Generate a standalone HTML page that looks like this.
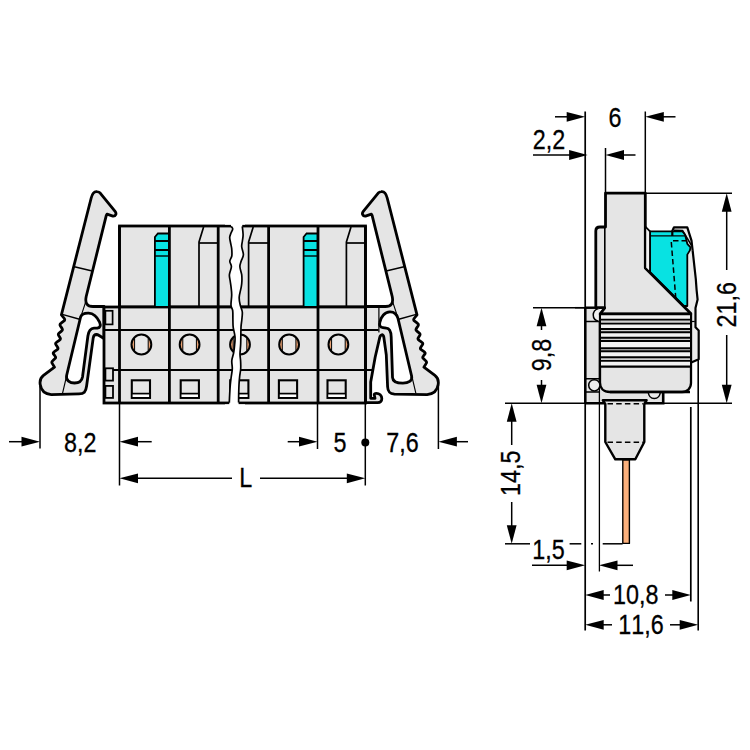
<!DOCTYPE html>
<html><head><meta charset="utf-8"><title>Dimension drawing</title>
<style>
html,body{margin:0;padding:0;background:#fff;}
body{width:750px;height:750px;overflow:hidden;font-family:"Liberation Sans",sans-serif;}
svg{display:block;}
</style></head><body>
<svg width="750" height="750" viewBox="0 0 750 750">
<rect width="750" height="750" fill="#fff"/>
<g stroke-linejoin="round" stroke-linecap="round">
<path d="M91.2,198 C92.2,193.8 94.2,191.1 97.2,191.6 C98.6,191.8 99.4,192.3 100.2,193.1 L115.1,211.3 C116.9,213.6 115.7,216.4 112.9,216.1 L107,214.1 L106.3,215.4 L86.2,296.5 C84.8,303 87,306.5 93,306.5 L104,306.5 L104,338.8 C101,336.5 99,334.8 96.4,334.5 C94.2,334.4 93.6,335.8 93.2,338 L86.6,386 C85.8,392 84,393.8 79,393.9 L51.3,394.6 C45,394 41,390 40.2,384.5 C39.6,380.5 40.6,377.6 43.5,375.4 L54.5,367.2 L52.2,363.4 Q51.3,361.9 52.7,360.7 L54.8,358.8 Q56.2,357.6 55.2,356.3 L53.6,354.1 Q52.6,352.8 54.3,351.7 L56.9,349.9 Q58.6,348.8 57.6,347.2 L56.0,344.8 Q55.0,343.2 56.7,342.1 L59.3,340.3 Q61.0,339.2 60.1,337.7 L58.7,335.5 Q57.8,334.0 59.3,332.9 L61.5,331.1 Q63.0,330.0 62.0,328.4 L60.4,326.0 Q59.4,324.4 61.1,323.2 L63.7,321.2 Q65.4,320.0 64.3,318.5 L61.4,314.8 Z" fill="#e5e5e5" stroke="#000" stroke-width="2.8"/>
<path d="M80.6,317 L66.6,375.5 C65.6,380.5 70,383 74.5,383 C79,383 81.8,381 82.5,377 L87.9,336 C88.6,331 90,328.3 94,328.1 L97.5,328 C100.2,327.8 101,325.5 99.6,322.2 C97.5,317.6 93.5,313.3 88.6,313.1 C84.5,313 81.5,314 80.6,317 Z" fill="#fff" stroke="#000" stroke-width="2.8"/>
<path d="M62.2,314.4 L79.6,319.3 M74.4,266.8 L91.2,270.8" stroke="#000" stroke-width="1.5" fill="none"/><path d="M86,301 L80.2,318.6" stroke="#000" stroke-width="1.1" fill="none"/><path d="M66.6,376 L62.6,393" stroke="#000" stroke-width="1.1" fill="none"/>
<g transform="translate(478.4,0) scale(-1,1)">
<path d="M91.2,198 C92.2,193.8 94.2,191.1 97.2,191.6 C98.6,191.8 99.4,192.3 100.2,193.1 L115.1,211.3 C116.9,213.6 115.7,216.4 112.9,216.1 L107,214.1 L106.3,215.4 L86.2,296.5 C84.8,303 87,306.5 93,306.5 L113,306.5 L113,402.7 L100.7,402.7 C98,402.7 96.5,401 96.6,398.5 C96.7,395.5 99,393.3 102,393.3 C103.6,393.3 104.3,394 104.1,395 L103.4,398.3 L107.7,398.3 L107.7,382 L103.2,357 L98.7,337.6 C98,334.3 95.2,333.6 94.6,337 L92.1,355 L90.8,386.7 C90.6,391.5 89,393.8 84,394.1 L51.3,394.6 C45,394 41,390 40.2,384.5 C39.6,380.5 40.6,377.6 43.5,375.4 L54.5,367.2 L52.2,363.4 Q51.3,361.9 52.7,360.7 L54.8,358.8 Q56.2,357.6 55.2,356.3 L53.6,354.1 Q52.6,352.8 54.3,351.7 L56.9,349.9 Q58.6,348.8 57.6,347.2 L56.0,344.8 Q55.0,343.2 56.7,342.1 L59.3,340.3 Q61.0,339.2 60.1,337.7 L58.7,335.5 Q57.8,334.0 59.3,332.9 L61.5,331.1 Q63.0,330.0 62.0,328.4 L60.4,326.0 Q59.4,324.4 61.1,323.2 L63.7,321.2 Q65.4,320.0 64.3,318.5 L61.4,314.8 Z" fill="#e5e5e5" stroke="#000" stroke-width="2.8"/>
<path d="M80.4,318.5 L66.8,376 C65.8,381 70,383.2 75.5,383.2 C81,383.2 85.6,382 85.9,377.3 L87.2,337 C87.4,331.5 88.5,328.4 92,328.2 L95.5,327.6 C98.5,327.4 99.2,325 98.6,322.5 C97.5,316.5 93.5,312 88.6,311.9 C84.5,311.8 81.5,314.5 80.4,318.5 Z" fill="#fff" stroke="#000" stroke-width="2.8"/>
<path d="M62.2,314.4 L79.6,319.3 M74.4,266.8 L91.2,270.8" stroke="#000" stroke-width="1.5" fill="none"/><path d="M86,301 L80.2,318.6" stroke="#000" stroke-width="1.1" fill="none"/><path d="M66.6,376 L62.6,393" stroke="#000" stroke-width="1.1" fill="none"/>
<path d="M99.5,307 L99.5,332" stroke="#000" stroke-width="1.2" fill="none"/>
</g>
</g>
<g stroke="#000" fill="none" stroke-linejoin="miter">
<rect x="119.5" y="226" width="246" height="81" fill="#e5e5e5" stroke-width="2.8"/>
<rect x="104" y="307" width="261.5" height="96" fill="#e5e5e5" stroke-width="2.8"/>
<path d="M104,330 H378.5 M104,370 H372" stroke-width="2"/>
<path d="M154.9,307 V237 L157.9,233.5 H169.1 V307 Z" fill="#08e2e2" stroke-width="1.8"/>
<path d="M154.9,241 H169.1 M154.9,250 H169.1" stroke-width="1.8"/>
<path d="M154.9,256 H169.1" stroke-width="1.4"/>
<path d="M303.6,307 V237 L306.6,233.5 H317.8 V307 Z" fill="#08e2e2" stroke-width="1.8"/>
<path d="M303.6,241 H317.8 M303.6,250 H317.8" stroke-width="1.8"/>
<path d="M303.6,256 H317.8" stroke-width="1.4"/>
<path d="M199.0,307 V242 L203.6,227" stroke-width="1.7" stroke-linejoin="round"/>
<path d="M199.0,243 H218.2" stroke-width="1.7"/>
<path d="M248.6,307 V242 L253.2,227" stroke-width="1.7" stroke-linejoin="round"/>
<path d="M248.6,243 H268.6" stroke-width="1.7"/>
<path d="M346.4,307 V242 L351.0,227" stroke-width="1.7" stroke-linejoin="round"/>
<path d="M346.4,243 H365.4" stroke-width="1.7"/>
<path d="M119.5,226 V403" stroke-width="2.8"/>
<path d="M169.4,226 V403" stroke-width="2.8"/>
<path d="M218.2,226 V403" stroke-width="2.8"/>
<path d="M268.6,226 V403" stroke-width="2.8"/>
<path d="M318.0,226 V403" stroke-width="2.8"/>
<path d="M365.4,226 V403" stroke-width="2.8"/>
<circle cx="141.4" cy="344.5" r="9.9" fill="#e9a273" stroke="none"/>
<clipPath id="c141"><circle cx="141.4" cy="344.5" r="9.9"/></clipPath>
<rect x="134.6" y="333.5" width="13.6" height="22" fill="#e9e9e9" stroke="none" clip-path="url(#c141)"/>
<path d="M134.6,337.5 V351.5 M148.2,337.5 V351.5" stroke-width="1.0"/>
<circle cx="141.4" cy="344.5" r="9.9" stroke-width="2"/>
<circle cx="189.6" cy="344.5" r="9.9" fill="#e9a273" stroke="none"/>
<clipPath id="c189"><circle cx="189.6" cy="344.5" r="9.9"/></clipPath>
<rect x="182.8" y="333.5" width="13.6" height="22" fill="#e9e9e9" stroke="none" clip-path="url(#c189)"/>
<path d="M182.8,337.5 V351.5 M196.4,337.5 V351.5" stroke-width="1.0"/>
<circle cx="189.6" cy="344.5" r="9.9" stroke-width="2"/>
<circle cx="240.0" cy="344.5" r="9.9" fill="#e9a273" stroke="none"/>
<clipPath id="c240"><circle cx="240.0" cy="344.5" r="9.9"/></clipPath>
<rect x="233.2" y="333.5" width="13.6" height="22" fill="#e9e9e9" stroke="none" clip-path="url(#c240)"/>
<path d="M233.2,337.5 V351.5 M246.8,337.5 V351.5" stroke-width="1.0"/>
<circle cx="240.0" cy="344.5" r="9.9" stroke-width="2"/>
<circle cx="289.1" cy="344.5" r="9.9" fill="#e9a273" stroke="none"/>
<clipPath id="c289"><circle cx="289.1" cy="344.5" r="9.9"/></clipPath>
<rect x="282.3" y="333.5" width="13.6" height="22" fill="#e9e9e9" stroke="none" clip-path="url(#c289)"/>
<path d="M282.3,337.5 V351.5 M295.9,337.5 V351.5" stroke-width="1.0"/>
<circle cx="289.1" cy="344.5" r="9.9" stroke-width="2"/>
<circle cx="338.4" cy="344.5" r="9.9" fill="#e9a273" stroke="none"/>
<clipPath id="c338"><circle cx="338.4" cy="344.5" r="9.9"/></clipPath>
<rect x="331.6" y="333.5" width="13.6" height="22" fill="#e9e9e9" stroke="none" clip-path="url(#c338)"/>
<path d="M331.6,337.5 V351.5 M345.2,337.5 V351.5" stroke-width="1.0"/>
<circle cx="338.4" cy="344.5" r="9.9" stroke-width="2"/>
<rect x="131.8" y="380.3" width="18.2" height="17.6" fill="#e5e5e5" stroke-width="2.1"/>
<rect x="132.7" y="394" width="16.4" height="3" fill="#fff" stroke="none"/>
<path d="M131.8,393.6 H150.0" stroke-width="1.7"/>
<rect x="180.7" y="380.3" width="18.2" height="17.6" fill="#e5e5e5" stroke-width="2.1"/>
<rect x="181.6" y="394" width="16.4" height="3" fill="#fff" stroke="none"/>
<path d="M180.7,393.6 H198.9" stroke-width="1.7"/>
<rect x="230.2" y="380.3" width="18.2" height="17.6" fill="#e5e5e5" stroke-width="2.1"/>
<rect x="231.1" y="394" width="16.4" height="3" fill="#fff" stroke="none"/>
<path d="M230.2,393.6 H248.4" stroke-width="1.7"/>
<rect x="278.9" y="380.3" width="18.2" height="17.6" fill="#e5e5e5" stroke-width="2.1"/>
<rect x="279.8" y="394" width="16.4" height="3" fill="#fff" stroke="none"/>
<path d="M278.9,393.6 H297.1" stroke-width="1.7"/>
<rect x="327.5" y="380.3" width="18.2" height="17.6" fill="#e5e5e5" stroke-width="2.1"/>
<rect x="328.4" y="394" width="16.4" height="3" fill="#fff" stroke="none"/>
<path d="M327.5,393.6 H345.7" stroke-width="1.7"/>
<rect x="105.4" y="310.8" width="7.2" height="13.6" stroke-width="1.7" fill="#e5e5e5"/>
<rect x="105.4" y="368.3" width="7.6" height="12.3" stroke-width="1.8" fill="#e5e5e5"/>
<rect x="105.4" y="385.9" width="7.6" height="12" stroke-width="1.8" fill="#e5e5e5"/>
</g>
<path d="M231.00,223.50 C231.03,223.98 230.92,225.50 231.20,226.40 C231.48,227.30 232.73,227.80 232.70,228.90 C232.67,230.00 231.50,231.60 231.00,233.00 C230.50,234.40 229.77,235.63 229.70,237.30 C229.63,238.97 230.27,241.10 230.60,243.00 C230.93,244.90 231.50,246.53 231.70,248.70 C231.90,250.87 232.12,253.90 231.80,256.00 C231.48,258.10 229.87,259.52 229.80,261.30 C229.73,263.08 231.47,264.47 231.40,266.70 C231.33,268.93 229.60,272.32 229.40,274.70 C229.20,277.08 229.93,279.00 230.20,281.00 C230.47,283.00 230.75,284.42 231.00,286.70 C231.25,288.98 231.70,291.60 231.70,294.70 C231.70,297.80 230.83,302.63 231.00,305.30 C231.17,307.97 232.38,308.25 232.70,310.70 C233.02,313.15 232.82,317.23 232.90,320.00 C232.98,322.77 232.85,324.52 233.20,327.30 C233.55,330.08 234.77,333.75 235.00,336.70 C235.23,339.65 234.82,342.33 234.60,345.00 C234.38,347.67 234.17,350.08 233.70,352.70 C233.23,355.32 232.03,358.03 231.80,360.70 C231.57,363.37 232.40,365.98 232.30,368.70 C232.20,371.42 231.53,374.33 231.20,377.00 C230.87,379.67 230.55,381.87 230.30,384.70 C230.05,387.53 229.87,391.02 229.70,394.00 C229.53,396.98 229.37,400.68 229.30,402.60 C229.23,404.52 229.30,405.02 229.30,405.50 L238.60,405.50 C238.60,405.02 238.58,404.52 238.60,402.60 C238.62,400.68 238.63,396.98 238.70,394.00 C238.77,391.02 238.85,387.53 239.00,384.70 C239.15,381.87 239.32,379.67 239.60,377.00 C239.88,374.33 240.53,371.37 240.70,368.70 C240.87,366.03 240.72,363.45 240.60,361.00 C240.48,358.55 239.98,356.95 240.00,354.00 C240.02,351.05 240.53,347.75 240.70,343.30 C240.87,338.85 240.82,331.18 241.00,327.30 C241.18,323.42 241.58,322.55 241.80,320.00 C242.02,317.45 242.55,314.45 242.30,312.00 C242.05,309.55 240.82,307.75 240.30,305.30 C239.78,302.85 239.03,300.40 239.20,297.30 C239.37,294.20 240.85,289.42 241.30,286.70 C241.75,283.98 241.83,283.00 241.90,281.00 C241.97,279.00 242.03,277.08 241.70,274.70 C241.37,272.32 239.98,268.98 239.90,266.70 C239.82,264.42 240.62,263.00 241.20,261.00 C241.78,259.00 243.32,257.08 243.40,254.70 C243.48,252.32 241.87,248.98 241.70,246.70 C241.53,244.42 242.17,243.00 242.40,241.00 C242.63,239.00 243.12,237.13 243.10,234.70 C243.08,232.27 242.43,228.27 242.30,226.40 C242.17,224.53 242.30,223.98 242.30,223.50 Z" fill="#fff" stroke="none"/>
<path d="M231.20,226.40 C231.45,226.82 232.73,227.80 232.70,228.90 C232.67,230.00 231.50,231.60 231.00,233.00 C230.50,234.40 229.77,235.63 229.70,237.30 C229.63,238.97 230.27,241.10 230.60,243.00 C230.93,244.90 231.50,246.53 231.70,248.70 C231.90,250.87 232.12,253.90 231.80,256.00 C231.48,258.10 229.87,259.52 229.80,261.30 C229.73,263.08 231.47,264.47 231.40,266.70 C231.33,268.93 229.60,272.32 229.40,274.70 C229.20,277.08 229.93,279.00 230.20,281.00 C230.47,283.00 230.75,284.42 231.00,286.70 C231.25,288.98 231.70,291.60 231.70,294.70 C231.70,297.80 230.83,302.63 231.00,305.30 C231.17,307.97 232.38,308.25 232.70,310.70 C233.02,313.15 232.82,317.23 232.90,320.00 C232.98,322.77 232.85,324.52 233.20,327.30 C233.55,330.08 234.77,333.75 235.00,336.70 C235.23,339.65 234.82,342.33 234.60,345.00 C234.38,347.67 234.17,350.08 233.70,352.70 C233.23,355.32 232.03,358.03 231.80,360.70 C231.57,363.37 232.40,365.98 232.30,368.70 C232.20,371.42 231.53,374.33 231.20,377.00 C230.87,379.67 230.55,381.87 230.30,384.70 C230.05,387.53 229.87,391.02 229.70,394.00 C229.53,396.98 229.37,401.17 229.30,402.60" fill="none" stroke="#000" stroke-width="1.7"/>
<path d="M242.30,226.40 C242.43,227.78 243.08,232.27 243.10,234.70 C243.12,237.13 242.63,239.00 242.40,241.00 C242.17,243.00 241.53,244.42 241.70,246.70 C241.87,248.98 243.48,252.32 243.40,254.70 C243.32,257.08 241.78,259.00 241.20,261.00 C240.62,263.00 239.82,264.42 239.90,266.70 C239.98,268.98 241.37,272.32 241.70,274.70 C242.03,277.08 241.97,279.00 241.90,281.00 C241.83,283.00 241.75,283.98 241.30,286.70 C240.85,289.42 239.37,294.20 239.20,297.30 C239.03,300.40 239.78,302.85 240.30,305.30 C240.82,307.75 242.05,309.55 242.30,312.00 C242.55,314.45 242.02,317.45 241.80,320.00 C241.58,322.55 241.18,323.42 241.00,327.30 C240.82,331.18 240.87,338.85 240.70,343.30 C240.53,347.75 240.02,351.05 240.00,354.00 C239.98,356.95 240.48,358.55 240.60,361.00 C240.72,363.45 240.87,366.03 240.70,368.70 C240.53,371.37 239.88,374.33 239.60,377.00 C239.32,379.67 239.15,381.87 239.00,384.70 C238.85,387.53 238.77,391.02 238.70,394.00 C238.63,396.98 238.62,401.17 238.60,402.60" fill="none" stroke="#000" stroke-width="1.7"/>
<rect x="225" y="404.3" width="20" height="4" fill="#fff"/>
<rect x="225" y="220" width="20" height="4.7" fill="#fff"/>
<line x1="40.0" y1="386.0" x2="40.0" y2="448.5" stroke="#000" stroke-width="1.5"/>
<line x1="119.5" y1="403.0" x2="119.5" y2="485.5" stroke="#000" stroke-width="1.5"/>
<line x1="317.5" y1="403.0" x2="317.5" y2="449.0" stroke="#000" stroke-width="1.5"/>
<line x1="365.3" y1="403.0" x2="365.3" y2="485.5" stroke="#000" stroke-width="1.5"/>
<line x1="438.4" y1="385.0" x2="438.4" y2="449.0" stroke="#000" stroke-width="1.5"/>
<line x1="9.0" y1="441.7" x2="30.0" y2="441.7" stroke="#000" stroke-width="1.5"/>
<polygon points="40.0,441.7 21.5,436.8 21.5,446.6" fill="#000"/>
<polygon points="119.5,441.7 138.0,436.8 138.0,446.6" fill="#000"/>
<line x1="130.0" y1="441.7" x2="151.7" y2="441.7" stroke="#000" stroke-width="1.5"/>
<line x1="287.7" y1="441.7" x2="305.0" y2="441.7" stroke="#000" stroke-width="1.5"/>
<polygon points="317.5,441.7 299.0,436.8 299.0,446.6" fill="#000"/>
<polygon points="438.4,441.7 456.9,436.8 456.9,446.6" fill="#000"/>
<line x1="450.0" y1="441.7" x2="468.0" y2="441.7" stroke="#000" stroke-width="1.5"/>
<circle cx="365.3" cy="442.6" r="4" fill="#000"/>
<polygon points="119.5,478.3 138.0,473.4 138.0,483.2" fill="#000"/>
<line x1="130.0" y1="478.3" x2="232.0" y2="478.3" stroke="#000" stroke-width="1.5"/>
<line x1="260.0" y1="478.3" x2="355.0" y2="478.3" stroke="#000" stroke-width="1.5"/>
<polygon points="365.3,478.3 346.8,473.4 346.8,483.2" fill="#000"/>
<text transform="translate(80.3,451.5) scale(0.840,1)" font-size="27.8" text-anchor="middle" font-family="Liberation Sans, sans-serif" fill="#000" stroke="#000" stroke-width="0.3" style="font-kerning:none">8,2</text>
<text transform="translate(340.0,451.5) scale(0.840,1)" font-size="27.8" text-anchor="middle" font-family="Liberation Sans, sans-serif" fill="#000" stroke="#000" stroke-width="0.3" style="font-kerning:none">5</text>
<text transform="translate(402.5,451.5) scale(0.840,1)" font-size="27.8" text-anchor="middle" font-family="Liberation Sans, sans-serif" fill="#000" stroke="#000" stroke-width="0.3" style="font-kerning:none">7,6</text>
<text transform="translate(245.7,487.0) scale(0.840,1)" font-size="27.8" text-anchor="middle" font-family="Liberation Sans, sans-serif" fill="#000" stroke="#000" stroke-width="0.3" style="font-kerning:none">L</text>
<g stroke="#000" fill="none" stroke-linejoin="round">
<path d="M672.3,236 V231 L674,227.3 H687.3 L691.5,240.6 L692.6,250.2 L695.8,279 L696.6,290 L697.6,299.6 L695.5,308 V327.3 L698.7,330.5 V359.3 L691.2,362.5 V312 L650,272 V231 Z" fill="#ebebeb" stroke="none"/>
<path d="M650,231.4 H682.5 L685.1,234.7 L687.3,243.8 L690.5,247.3 L689.9,250.4 L687.3,254.6 V306 H683.6 L650,272.4 Z" fill="#08e2e2" stroke-width="1.8"/>
<path d="M650,235.8 H685.2" stroke-width="1.2"/>
<path d="M672.3,236 V231 L674,227.3 H687.3 L691.5,240.6 L692.6,250.2" stroke-width="2.2"/>
<path d="M692.6,250.2 L695.8,279 L696.6,290 L697.6,299.6 L695.5,308 V327.3 L698.7,330.5 V359.3 L691.2,362.5" stroke-width="2.2"/>
<path d="M691,321.5 H694.8" stroke-width="1.2"/>
<path d="M674,230.2 L682.5,230.5 L685.1,234.7 L691.8,246" stroke-width="1.5"/>
<path d="M687,240.8 H671.2 L676.4,306" stroke-width="1.5" stroke-dasharray="5.5,3"/>
<path d="M585.3,307.8 H600 V403.2 H585.3 Z" fill="#e5e5e5" stroke="none"/>
<path d="M600,388 H663.2 V403.2 H600 Z" fill="#e5e5e5" stroke="none"/>
<path d="M605.5,193.2 H645.3 V268 L690.8,313.5 V314 H600 L604.6,308.2 L604.6,307.6 H595.8 V231 C595.8,228 597,227 600,227 H605.5 Z" fill="#e5e5e5" stroke-width="2.8"/>
<path d="M604.8,227 V308 L600,314" stroke-width="1.6"/>
<path d="M645.3,226.5 L650,231.4 V272.4 L645.3,268 Z" fill="#f2f2f2" stroke-width="1.8"/>
<path d="M600,314 H691 V383 C691,388.5 687,392 682,392 H610 C603.5,392 600,388 600,382.5 Z" fill="#e5e5e5" stroke-width="2.3"/>
<rect x="601" y="314.2" width="89" height="5.4" fill="#f2f2f2" stroke="none"/>
<rect x="601" y="323.6" width="89" height="5.4" fill="#f2f2f2" stroke="none"/>
<rect x="601" y="332.2" width="89" height="5.6" fill="#f2f2f2" stroke="none"/>
<rect x="601" y="341.0" width="89" height="7.2" fill="#f2f2f2" stroke="none"/>
<rect x="601" y="351.2" width="89" height="6.1" fill="#f2f2f2" stroke="none"/>
<rect x="601" y="360.9" width="89" height="5.8" fill="#f2f2f2" stroke="none"/>
<rect x="601" y="319.6" width="89" height="4.0" fill="#cfcfcf" stroke="none"/>
<rect x="601" y="329.0" width="89" height="3.2" fill="#cfcfcf" stroke="none"/>
<rect x="601" y="337.8" width="89" height="3.2" fill="#cfcfcf" stroke="none"/>
<rect x="601" y="348.2" width="89" height="3.0" fill="#cfcfcf" stroke="none"/>
<rect x="601" y="357.3" width="89" height="3.6" fill="#cfcfcf" stroke="none"/>
<path d="M600,314.2 H691" stroke-width="2.3"/>
<path d="M600,319.6 H691" stroke-width="1.9"/>
<path d="M600,323.6 H691" stroke-width="1.9"/>
<path d="M600,329.0 H691" stroke-width="1.9"/>
<path d="M600,332.2 H691" stroke-width="1.9"/>
<path d="M600,337.8 H691" stroke-width="1.9"/>
<path d="M600,341.0 H691" stroke-width="1.9"/>
<path d="M600,348.2 H691" stroke-width="1.9"/>
<path d="M600,351.2 H691" stroke-width="1.9"/>
<path d="M600,357.3 H691" stroke-width="1.9"/>
<path d="M600,360.9 H691" stroke-width="1.9"/>
<path d="M600,366.7 H691" stroke-width="2.3"/>
<path d="M575,307.7 H597" stroke-width="1.5"/>
<path d="M585.3,307.7 H596.5" stroke-width="2.4"/>
<path d="M585.3,307.7 V403.2" stroke-width="2.5"/>
<path d="M599.4,321 V404" stroke-width="1.3"/>
<path d="M585.3,321.5 H599" stroke-width="1.5"/>
<path d="M598.5,308.6 C591.5,310.5 591.5,319.5 598.5,321.3" stroke-width="1.5" fill="#f2f2f2"/>
<path d="M585.3,378.7 H600 M585.3,392 H600" stroke-width="1.4"/>
<circle cx="594.3" cy="385.3" r="5.6" fill="#ececec" stroke-width="1.5"/>
<path d="M585.3,403.2 H663.2 V392" stroke-width="2.6" stroke-linejoin="miter"/>
<path d="M648.3,392.5 C649.3,400.5 659.3,400.5 660.3,392.5" stroke-width="1.5" fill="#ececec"/>
<path d="M610,392 H690" stroke-width="2.3"/>
<path d="M602.8,400.3 H646.6 L644.3,404 V442 L635.3,459.3 H615.3 L605.3,442 V404 Z" fill="#e5e5e5" stroke-width="2.4"/>
<path d="M607.5,403.8 H643" stroke-width="1.5" stroke-dasharray="5.5,3.2"/>
<path d="M607.5,442.3 H643" stroke-width="1.5" stroke-dasharray="5.5,3.2"/>
<rect x="622.8" y="460" width="6.6" height="83.4" fill="#fbb07c" stroke="#000" stroke-width="1.4"/>
</g>
<line x1="585.2" y1="111.5" x2="585.2" y2="630.5" stroke="#000" stroke-width="1.7"/>
<line x1="645.3" y1="111.5" x2="645.3" y2="193.0" stroke="#000" stroke-width="1.5"/>
<line x1="605.5" y1="148.0" x2="605.5" y2="193.0" stroke="#000" stroke-width="1.5"/>
<line x1="555.0" y1="116.8" x2="574.0" y2="116.8" stroke="#000" stroke-width="1.5"/>
<polygon points="585.2,116.8 566.7,111.9 566.7,121.7" fill="#000"/>
<polygon points="645.3,116.8 663.8,111.9 663.8,121.7" fill="#000"/>
<line x1="656.0" y1="116.8" x2="675.5" y2="116.8" stroke="#000" stroke-width="1.5"/>
<line x1="533.0" y1="155.0" x2="576.0" y2="155.0" stroke="#000" stroke-width="1.5"/>
<polygon points="587.6,155.0 569.1,150.1 569.1,159.9" fill="#000"/>
<polygon points="605.5,155.0 624.0,150.1 624.0,159.9" fill="#000"/>
<line x1="616.0" y1="155.0" x2="635.5" y2="155.0" stroke="#000" stroke-width="1.5"/>
<text transform="translate(615.0,127.0) scale(0.840,1)" font-size="27.8" text-anchor="middle" font-family="Liberation Sans, sans-serif" fill="#000" stroke="#000" stroke-width="0.3" style="font-kerning:none">6</text>
<text transform="translate(549.0,149.0) scale(0.840,1)" font-size="27.8" text-anchor="middle" font-family="Liberation Sans, sans-serif" fill="#000" stroke="#000" stroke-width="0.3" style="font-kerning:none">2,2</text>
<line x1="646.0" y1="193.3" x2="732.0" y2="193.3" stroke="#000" stroke-width="1.5"/>
<line x1="664.0" y1="403.3" x2="732.0" y2="403.3" stroke="#000" stroke-width="1.5"/>
<line x1="726.7" y1="204.0" x2="726.7" y2="270.0" stroke="#000" stroke-width="1.5"/>
<polygon points="726.7,193.3 721.8,211.8 731.6,211.8" fill="#000"/>
<line x1="726.7" y1="335.0" x2="726.7" y2="392.0" stroke="#000" stroke-width="1.5"/>
<polygon points="726.7,403.3 721.8,384.8 731.6,384.8" fill="#000"/>
<text transform="translate(736.0,304.8) rotate(-90) scale(0.840,1)" font-size="27.8" text-anchor="middle" font-family="Liberation Sans, sans-serif" fill="#000" stroke="#000" stroke-width="0.3" style="font-kerning:none">21,6</text>
<line x1="533.0" y1="307.7" x2="585.0" y2="307.7" stroke="#000" stroke-width="1.5"/>
<line x1="505.0" y1="403.3" x2="602.0" y2="403.3" stroke="#000" stroke-width="1.5"/>
<line x1="541.5" y1="318.0" x2="541.5" y2="330.0" stroke="#000" stroke-width="1.5"/>
<polygon points="541.5,307.7 536.6,326.2 546.4,326.2" fill="#000"/>
<line x1="541.5" y1="380.0" x2="541.5" y2="392.0" stroke="#000" stroke-width="1.5"/>
<polygon points="541.5,403.3 536.6,384.8 546.4,384.8" fill="#000"/>
<text transform="translate(550.6,355.0) rotate(-90) scale(0.840,1)" font-size="27.8" text-anchor="middle" font-family="Liberation Sans, sans-serif" fill="#000" stroke="#000" stroke-width="0.3" style="font-kerning:none">9,8</text>
<line x1="511.7" y1="414.0" x2="511.7" y2="445.0" stroke="#000" stroke-width="1.5"/>
<polygon points="511.7,403.3 506.8,421.8 516.6,421.8" fill="#000"/>
<line x1="511.7" y1="502.0" x2="511.7" y2="533.0" stroke="#000" stroke-width="1.5"/>
<polygon points="511.7,543.8 506.8,525.3 516.6,525.3" fill="#000"/>
<text transform="translate(519.6,473.2) rotate(-90) scale(0.840,1)" font-size="27.8" text-anchor="middle" font-family="Liberation Sans, sans-serif" fill="#000" stroke="#000" stroke-width="0.3" style="font-kerning:none">14,5</text>
<line x1="505.0" y1="543.8" x2="530.0" y2="543.8" stroke="#000" stroke-width="1.5"/>
<line x1="569.6" y1="543.8" x2="581.3" y2="543.8" stroke="#000" stroke-width="1.5"/>
<line x1="591.0" y1="543.8" x2="593.0" y2="543.8" stroke="#000" stroke-width="1.5"/>
<line x1="602.7" y1="543.8" x2="622.6" y2="543.8" stroke="#000" stroke-width="1.5"/>
<text transform="translate(548.4,558.5) scale(0.840,1)" font-size="27.8" text-anchor="middle" font-family="Liberation Sans, sans-serif" fill="#000" stroke="#000" stroke-width="0.3" style="font-kerning:none">1,5</text>
<line x1="532.0" y1="565.3" x2="574.0" y2="565.3" stroke="#000" stroke-width="1.5"/>
<polygon points="585.2,565.3 566.7,560.4 566.7,570.2" fill="#000"/>
<polygon points="599.0,565.3 617.5,560.4 617.5,570.2" fill="#000"/>
<line x1="610.0" y1="565.3" x2="633.0" y2="565.3" stroke="#000" stroke-width="1.5"/>
<line x1="599.4" y1="403.0" x2="599.4" y2="571.5" stroke="#000" stroke-width="1.3"/>
<line x1="690.8" y1="407.0" x2="690.8" y2="601.5" stroke="#000" stroke-width="1.7"/>
<line x1="698.2" y1="360.0" x2="698.2" y2="630.5" stroke="#000" stroke-width="1.6"/>
<polygon points="585.2,595.0 603.7,590.1 603.7,599.9" fill="#000"/>
<line x1="596.0" y1="595.0" x2="610.0" y2="595.0" stroke="#000" stroke-width="1.5"/>
<line x1="665.0" y1="595.0" x2="680.0" y2="595.0" stroke="#000" stroke-width="1.5"/>
<polygon points="690.8,595.0 672.3,590.1 672.3,599.9" fill="#000"/>
<polygon points="585.2,624.8 603.7,619.9 603.7,629.7" fill="#000"/>
<line x1="596.0" y1="624.8" x2="612.0" y2="624.8" stroke="#000" stroke-width="1.5"/>
<line x1="670.0" y1="624.8" x2="687.0" y2="624.8" stroke="#000" stroke-width="1.5"/>
<polygon points="698.2,624.8 679.7,619.9 679.7,629.7" fill="#000"/>
<text transform="translate(635.7,604.0) scale(0.840,1)" font-size="27.8" text-anchor="middle" font-family="Liberation Sans, sans-serif" fill="#000" stroke="#000" stroke-width="0.3" style="font-kerning:none">10,8</text>
<text transform="translate(641.0,634.0) scale(0.840,1)" font-size="27.8" text-anchor="middle" font-family="Liberation Sans, sans-serif" fill="#000" stroke="#000" stroke-width="0.3" style="font-kerning:none">11,6</text>
</svg>
</body></html>
